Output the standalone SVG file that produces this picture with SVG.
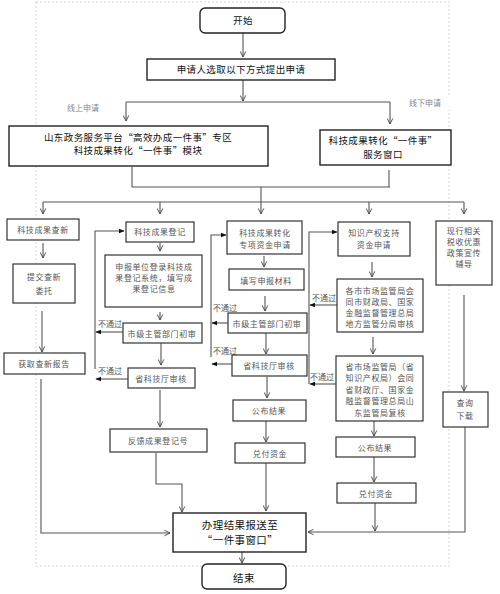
<svg xmlns="http://www.w3.org/2000/svg" width="500" height="594" viewBox="0 0 500 594">
<style>
.bx{fill:#fff;stroke:#333;stroke-width:1.2}
.bk{fill:#fff;stroke:#222;stroke-width:1.4}
.t{font-family:"Noto Sans CJK SC","Noto Sans",sans-serif;font-size:8px;fill:#555;text-anchor:middle;dominant-baseline:central;letter-spacing:0.6px}
.tb{font-family:"Noto Sans CJK SC","Noto Sans",sans-serif;font-size:9.5px;fill:#111;text-anchor:middle;dominant-baseline:central;letter-spacing:0.4px}
.tl{font-family:"Noto Sans CJK SC","Noto Sans",sans-serif;font-size:8px;fill:#555;dominant-baseline:central}
.lab{font-family:"Noto Sans CJK SC","Noto Sans",sans-serif;font-size:8px;fill:#7a8796;dominant-baseline:central}
.c{fill:none;stroke:#555;stroke-width:1.1}
</style>
<defs>
<marker id="av" viewBox="0 0 10 10" refX="9" refY="5" markerWidth="7" markerHeight="7" orient="auto" markerUnits="userSpaceOnUse"><path d="M1,1 L9,5 L1,9" fill="none" stroke="#444" stroke-width="1.3"/></marker>
<marker id="af" viewBox="0 0 10 10" refX="9" refY="5" markerWidth="6" markerHeight="6" orient="auto" markerUnits="userSpaceOnUse"><path d="M0,1 L10,5 L0,9 z" fill="#111"/></marker>
</defs>
<rect x="0" y="0" width="500" height="594" fill="#fff"/>
<rect id="frame" x="36" y="2" width="413" height="564" fill="none" stroke="#ccc" stroke-width="0.8" stroke-dasharray="2,2"/>

<g id="connectors">
<line class="c" x1="243" y1="33" x2="243" y2="57" marker-end="url(#av)"/>
<line class="c" x1="243" y1="80" x2="243" y2="101" marker-end="url(#av)"/>
<line class="c" x1="126" y1="102" x2="390" y2="102"/>
<line class="c" x1="126" y1="102" x2="126" y2="121" marker-end="url(#av)"/>
<line class="c" x1="390" y1="102" x2="390" y2="124" marker-end="url(#av)"/>
<line class="c" x1="132" y1="167" x2="132" y2="187"/>
<line class="c" x1="389" y1="170" x2="389" y2="187"/>
<line class="c" x1="132" y1="187" x2="390" y2="187"/>
<line class="c" x1="261" y1="187" x2="261" y2="202"/>
<line class="c" x1="43" y1="202" x2="464" y2="202"/>
<line class="c" x1="43" y1="202" x2="43" y2="214" marker-end="url(#av)"/>
<line class="c" x1="160" y1="202" x2="160" y2="214" marker-end="url(#av)"/>
<line class="c" x1="261" y1="202" x2="261" y2="214" marker-end="url(#av)"/>
<line class="c" x1="369" y1="202" x2="369" y2="214" marker-end="url(#av)"/>
<line class="c" x1="464" y1="202" x2="464" y2="214" marker-end="url(#av)"/>
<!-- col1 -->
<line class="c" x1="43" y1="243" x2="43" y2="258" marker-end="url(#av)"/>
<line class="c" x1="42" y1="311" x2="42" y2="352" marker-end="url(#av)"/>
<polyline class="c" points="41,379 41,533 170,533" marker-end="url(#av)"/>
<!-- col2 -->
<line class="c" x1="160" y1="243" x2="160" y2="251" marker-end="url(#av)"/>
<line class="c" x1="160" y1="312" x2="160" y2="320" marker-end="url(#av)"/>
<line class="c" x1="161" y1="343" x2="161" y2="365" marker-end="url(#av)"/>
<line class="c" x1="160" y1="390" x2="160" y2="427" marker-end="url(#av)"/>
<polyline class="c" points="156,453 156,484 182,484 182,512" marker-end="url(#av)"/>
<polyline class="c" points="95,369 95,231 124,231" marker-end="url(#af)"/>
<line class="c" x1="123" y1="332" x2="96" y2="332" marker-end="url(#af)"/>
<line class="c" x1="128" y1="379" x2="96" y2="379" marker-end="url(#af)"/>
<!-- col3 -->
<line class="c" x1="264" y1="256" x2="264" y2="267" marker-end="url(#av)"/>
<line class="c" x1="265" y1="296" x2="265" y2="311" marker-end="url(#av)"/>
<line class="c" x1="266" y1="333" x2="266" y2="354" marker-end="url(#av)"/>
<line class="c" x1="267" y1="377" x2="267" y2="398" marker-end="url(#av)"/>
<line class="c" x1="266" y1="421" x2="266" y2="442" marker-end="url(#av)"/>
<line class="c" x1="266" y1="463" x2="266" y2="511" marker-end="url(#av)"/>
<polyline class="c" points="211,357 211,235 226,235" marker-end="url(#af)"/>
<line class="c" x1="228" y1="323" x2="212" y2="323" marker-end="url(#af)"/>
<line class="c" x1="232" y1="364" x2="212" y2="364" marker-end="url(#af)"/>
<!-- col4 -->
<polyline class="c" points="309,384 309,232 337,232" marker-end="url(#af)"/>
<line class="c" x1="372" y1="262" x2="372" y2="277" marker-end="url(#av)"/>
<line class="c" x1="373" y1="337" x2="373" y2="354" marker-end="url(#av)"/>
<line class="c" x1="374" y1="421" x2="374" y2="436" marker-end="url(#av)"/>
<line class="c" x1="374" y1="457" x2="374" y2="482" marker-end="url(#av)"/>
<line class="c" x1="375" y1="503" x2="375" y2="531" marker-end="url(#av)"/>
<line class="c" x1="337" y1="305" x2="310" y2="305" marker-end="url(#af)"/>
<line class="c" x1="336" y1="384" x2="310" y2="384" marker-end="url(#af)"/>
<!-- col5 -->
<line class="c" x1="464" y1="295" x2="464" y2="391" marker-end="url(#av)"/>
<polyline class="c" points="465,427 465,532 308,532" marker-end="url(#av)"/>
<line class="c" x1="242" y1="552" x2="242" y2="563" marker-end="url(#av)"/>
</g>

<g id="labels">
<text class="lab" x="67" y="107">线上申请</text>
<rect x="407" y="95" width="45" height="15" fill="#fff"/>
<text class="lab" x="409" y="102">线下申请</text>
<text class="tl" x="98" y="323">不通过</text>
<text class="tl" x="98" y="370">不通过</text>
<text class="tl" x="213" y="307">不通过</text>
<text class="tl" x="213" y="350">不通过</text>
<text class="tl" x="312" y="297">不通过</text>
<text class="tl" x="310" y="376">不通过</text>
</g>

<g id="start"><rect class="bk" x="200" y="8" width="85" height="25" rx="5"/><text class="tb" x="243" y="20">开始</text></g>
<g id="apply"><rect class="bk" x="147" y="59" width="188" height="21"/><text class="tb" x="241" y="69">申请人选取以下方式提出申请</text></g>
<g id="online"><rect class="bk" x="9" y="126" width="259" height="40"/><text class="tb" x="138" y="137">山东政务服务平台“高效办成一件事”专区</text><text class="tb" x="138" y="150">科技成果转化“一件事”模块</text></g>
<g id="offline"><rect class="bk" x="320" y="130" width="131" height="35"/><text class="tb" x="383" y="140">科技成果转化“一件事”</text><text class="tb" x="383" y="154">服务窗口</text></g>

<g id="c1a"><rect class="bx" x="7" y="219" width="72" height="21"/><text class="t" x="43" y="229">科技成果查新</text></g>
<g id="c1b"><rect class="bx" x="13" y="264" width="62" height="39"/><text class="t" x="44" y="276">提交查新</text><text class="t" x="44" y="290">委托</text></g>
<g id="c1c"><rect class="bx" x="4" y="353" width="81" height="21"/><text class="t" x="44" y="363">获取查新报告</text></g>

<g id="c2a"><rect class="bx" x="126" y="222" width="68" height="20"/><text class="t" x="160" y="231">科技成果登记</text></g>
<g id="c2b"><rect class="bx" x="105" y="255" width="97" height="52"/><text class="t" x="154" y="266">申报单位登录科技成</text><text class="t" x="154" y="277">果登记系统，填写成</text><text class="t" x="154" y="288">果登记信息</text></g>
<g id="c2c"><rect class="bx" x="123" y="323" width="79" height="20"/><text class="t" x="162" y="333">市级主管部门初审</text></g>
<g id="c2d"><rect class="bx" x="128" y="368" width="67" height="20"/><text class="t" x="161" y="378">省科技厅审核</text></g>
<g id="c2e"><rect class="bx" x="110" y="429" width="97" height="23"/><text class="t" x="158" y="440">反馈成果登记号</text></g>

<g id="c3a"><rect class="bx" x="227" y="221" width="75" height="33"/><text class="t" x="265" y="232">科技成果转化</text><text class="t" x="265" y="244">专项资金申请</text></g>
<g id="c3b"><rect class="bx" x="229" y="269" width="75" height="21"/><text class="t" x="266" y="280">填写申报材料</text></g>
<g id="c3c"><rect class="bx" x="228" y="313" width="79" height="20"/><text class="t" x="267" y="323">市级主管部门初审</text></g>
<g id="c3d"><rect class="bx" x="232" y="355" width="75" height="21"/><text class="t" x="269" y="365">省科技厅审核</text></g>
<g id="c3e"><rect class="bx" x="233" y="400" width="73" height="21"/><text class="t" x="269" y="410">公布结果</text></g>
<g id="c3f"><rect class="bx" x="235" y="443" width="70" height="20"/><text class="t" x="270" y="453">兑付资金</text></g>

<g id="c4a"><rect class="bx" x="338" y="222" width="72" height="34"/><text class="t" x="374" y="232">知识产权支持</text><text class="t" x="374" y="244">资金申请</text></g>
<g id="c4b"><rect class="bx" x="337" y="279" width="86" height="53"/><text class="t" x="380" y="290">各市市场监管局会</text><text class="t" x="380" y="301">同市财政局、国家</text><text class="t" x="380" y="312">金融监督管理总局</text><text class="t" x="380" y="323">地方监管分局审核</text></g>
<g id="c4c"><rect class="bx" x="336" y="356" width="87" height="65"/><text class="t" x="380" y="366">省市场监管局（省</text><text class="t" x="380" y="377">知识产权局）会同</text><text class="t" x="380" y="389">省财政厅、国家金</text><text class="t" x="380" y="400">融监督管理总局山</text><text class="t" x="380" y="412">东监管局复核</text></g>
<g id="c4d"><rect class="bx" x="336" y="437" width="79" height="20"/><text class="t" x="375" y="447">公布结果</text></g>
<g id="c4e"><rect class="bx" x="337" y="483" width="79" height="20"/><text class="t" x="376" y="493">兑付资金</text></g>

<g id="c5a"><rect class="bx" x="436" y="221" width="56" height="64"/><text class="t" x="464" y="230">现行相关</text><text class="t" x="464" y="241">税收优惠</text><text class="t" x="464" y="252">政策宣传</text><text class="t" x="464" y="263">辅导</text></g>
<g id="c5b"><rect class="bx" x="443" y="392" width="45" height="35"/><text class="t" x="465" y="402">查询</text><text class="t" x="465" y="415">下载</text></g>

<g id="result"><rect class="bk" x="173" y="513" width="133" height="39"/><text class="tb" x="240" y="524" style="font-size:10.5px">办理结果报送至</text><text class="tb" x="240" y="539" style="font-size:10.5px">“一件事窗口”</text></g>
<g id="end"><rect class="bk" x="202" y="564" width="84" height="25" rx="5"/><text class="tb" x="244" y="577" style="font-size:10.5px">结束</text></g>
</svg>
